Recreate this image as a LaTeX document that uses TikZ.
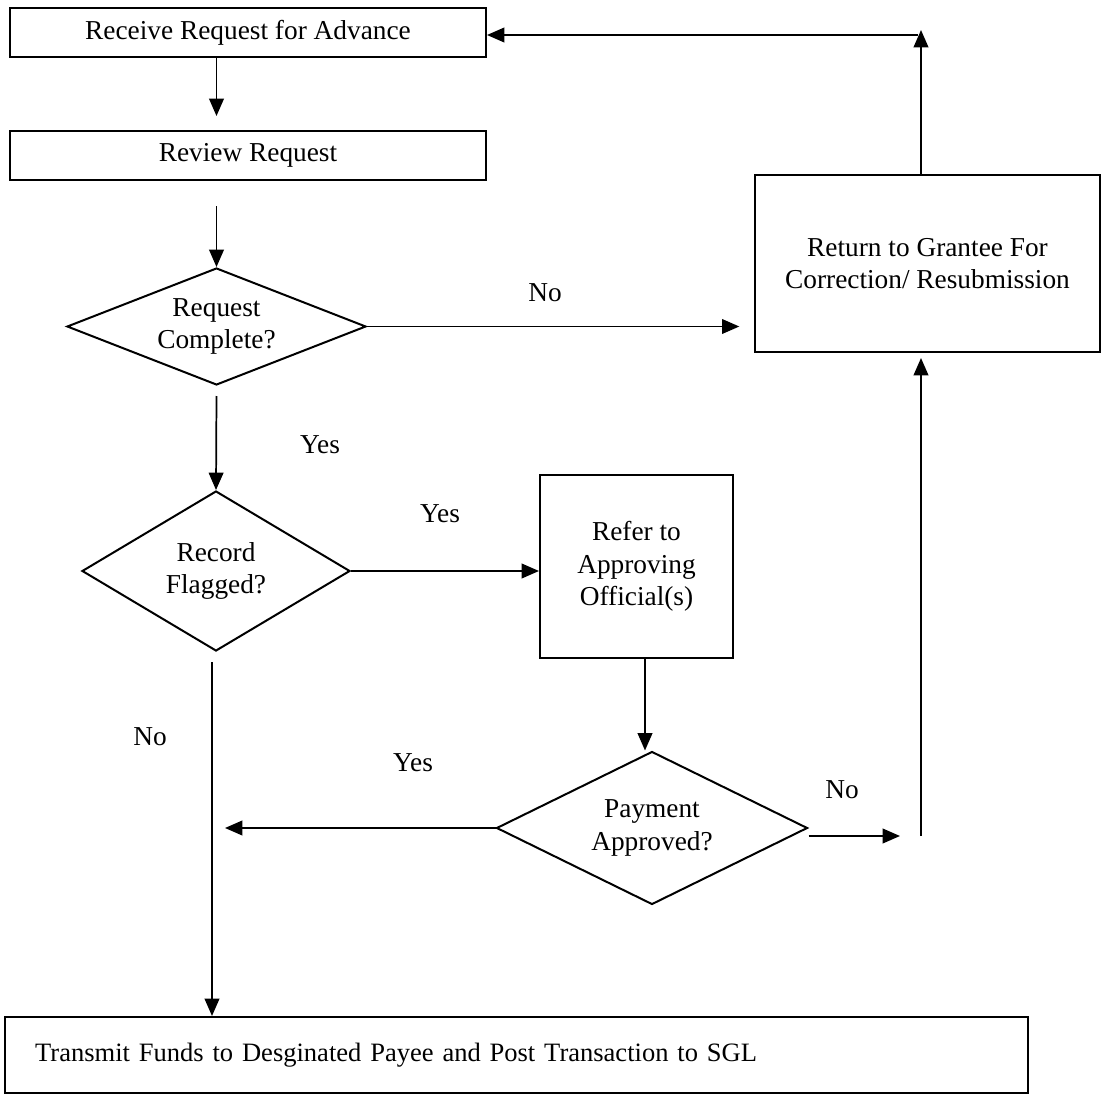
\documentclass[tikz,border=0pt]{standalone}
\usepackage{fontspec}
\setmainfont{Liberation Serif}
\usetikzlibrary{shapes.geometric,arrows.meta}
\begin{document}
\begin{tikzpicture}[x=0.75pt,y=-0.75pt,
  every node/.style={font=\fontsize{20.5pt}{24.5pt}\selectfont},
  box/.style={draw,line width=1.5pt,align=center,inner sep=0pt},
  dec/.style={draw,diamond,line width=1.5pt,align=center,inner sep=0pt},
  lbl/.style={inner sep=0pt},
  arr/.style={line width=1.3pt,-{Triangle[length=13pt,width=11pt]}},
  ln/.style={line width=1.3pt}]
\useasboundingbox (0,0) rectangle (1108,1099);
% nodes
\node[box,minimum width=357pt,minimum height=36.75pt] (b1) at (248,32.5) {Receive Request for Advance};
\node[box,minimum width=357pt,minimum height=36.75pt] (b2) at (248,155.5) {Review Request};
\node[dec,aspect=2.55,minimum width=224.25pt,minimum height=87.75pt] (d1) at (216.5,326.5) {Request\\Complete?};
\node[box,minimum width=258.75pt,minimum height=132.75pt] (b3) at (927.5,263.5) {Return to Grantee For\\Correction/ Resubmission};
\node[dec,aspect=1.675,minimum width=201pt,minimum height=120pt] (d2) at (216,571) {Record\\Flagged?};
\node[box,minimum width=144.75pt,minimum height=137.25pt] (b4) at (636.5,566.5) {Refer to\\Approving\\Official(s)};
\node[dec,aspect=2.03,minimum width=233.25pt,minimum height=114.75pt] (d3) at (652,828) {Payment\\Approved?};
\node[box,minimum width=767.25pt,minimum height=57pt,text width=722pt,align=left,inner xsep=22.5pt,font=\fontsize{19.9pt}{24pt}\selectfont] (b5) at (516.5,1055) {Transmit Funds to Desginated Payee and Post Transaction to SGL};
% free ends
\coordinate (j1) at (921,30);
\coordinate (j1b) at (918,35);
\coordinate (j2) at (921,836);
\coordinate (yesend) at (225,826);
\coordinate (noend) at (900,836);
% labels
\node[lbl] (lno1) at (545,293) {No};
\node[lbl] (lyes1) at (320,445) {Yes};
\node[lbl] (lyes2) at (440,514) {Yes};
\node[lbl] (lno2) at (150,737) {No};
\node[lbl] (lyes3) at (413,763) {Yes};
\node[lbl] (lno3) at (842,790) {No};
% connectors
\draw[arr] (b1.south -| d1.north) -- ([yshift=10.5pt]b2.north -| d1.north);
\draw[arr] ([yshift=-18.75pt]b2.south -| d1.north) -- (d1.north);
\draw[arr] (d1.east) -- ([xshift=-11pt]b3.west |- d1.east);
\draw[arr] ([yshift=-7.5pt]d1.south) -- (d2.north);
\draw[arr] (d2.east) -- (b4.west |- d2.east);
\draw[arr] (b4.south -| 645,0) -- (d3.north -| 645,0);
\draw[arr] (d3.west) -- (d3.west -| yesend);
\draw[arr] ([yshift=-7.5pt]d2.south -| 212,0) -- (b5.north -| 212,0);
\draw[arr] ([yshift=-6pt]d3.east) -- (noend);
\draw[arr] (j2) -- ([yshift=-3.75pt]b3.south -| j2);
\draw[arr] (b3.north -| j1) -- (j1);
\draw[arr] (j1b) -- (b1.east |- j1b);
\end{tikzpicture}
\end{document}
